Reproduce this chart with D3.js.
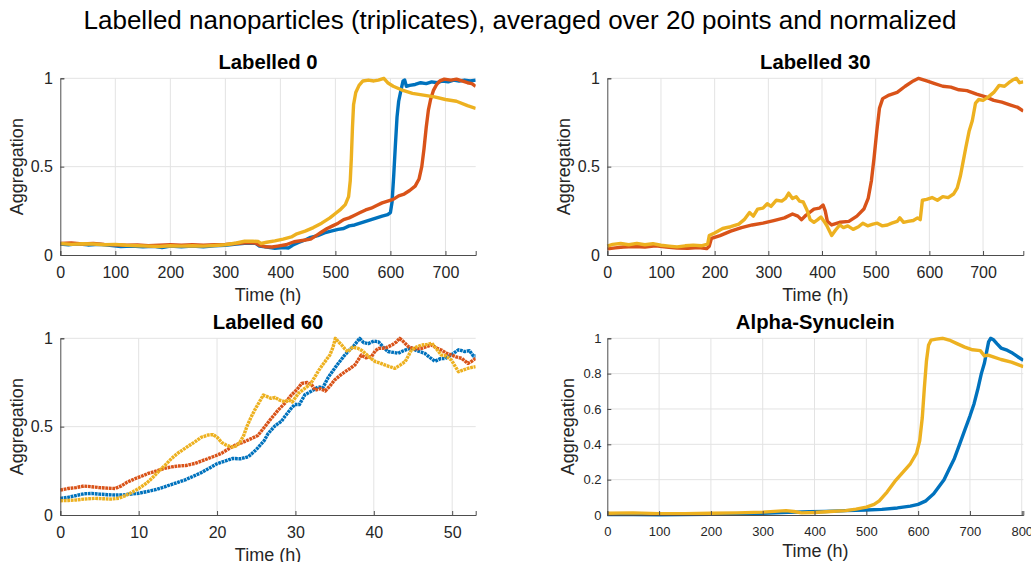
<!DOCTYPE html>
<html>
<head>
<meta charset="utf-8">
<script src="https://d3js.org/d3.v7.min.js"></script>
<style>
  html, body { margin: 0; padding: 0; background: #fff; }
  svg { display: block; font-family: "Liberation Sans", Arial, Helvetica, sans-serif; }
</style>
</head>
<body>
<svg id="chart" width="1031" height="562"></svg>
<script>
// MATLAB default colours
const colors = { blue: '#0072BD', orange: '#D95319', yellow: '#EDB120' };

// Labelled 0 (time h, aggregation)
const l0Blue = [[0,0.062],[15,0.058],[30,0.063],[50,0.057],[70,0.06],[90,0.055],[110,0.048],[130,0.05],[150,0.046],[170,0.049],[185,0.042],[200,0.05],[220,0.047],[240,0.05],[260,0.046],[280,0.052],[300,0.055],[320,0.062],[340,0.068],[355,0.066],[362,0.05],[375,0.045],[390,0.038],[405,0.042],[415,0.04],[422,0.055],[432,0.07],[445,0.085],[455,0.1],[468,0.11],[480,0.125],[492,0.135],[505,0.145],[515,0.15],[525,0.165],[535,0.17],[545,0.18],[555,0.19],[565,0.2],[575,0.21],[585,0.22],[595,0.228],[600,0.24],[603,0.3],[606,0.45],[609,0.62],[612,0.78],[615,0.87],[619,0.93],[623,0.985],[626,0.99],[629,0.955],[635,0.96],[645,0.965],[655,0.975],[665,0.97],[675,0.98],[685,0.975],[695,0.985],[705,0.98],[715,0.99],[725,0.985],[735,0.99],[745,0.985],[755,0.99]];
const l0Orange = [[0,0.065],[20,0.068],[40,0.062],[60,0.066],[80,0.06],[100,0.058],[120,0.055],[140,0.057],[160,0.052],[180,0.055],[200,0.058],[220,0.055],[240,0.058],[260,0.056],[280,0.058],[300,0.06],[320,0.065],[340,0.07],[355,0.068],[362,0.055],[372,0.047],[385,0.045],[395,0.05],[410,0.058],[425,0.075],[440,0.082],[455,0.09],[465,0.11],[475,0.13],[485,0.15],[495,0.165],[505,0.18],[515,0.2],[525,0.21],[535,0.225],[545,0.24],[555,0.255],[565,0.265],[575,0.28],[585,0.295],[595,0.305],[605,0.315],[615,0.335],[625,0.345],[635,0.365],[645,0.39],[652,0.43],[657,0.5],[661,0.6],[665,0.72],[669,0.82],[673,0.88],[678,0.93],[684,0.965],[690,0.985],[698,0.995],[710,0.99],[720,0.995],[730,0.985],[740,0.975],[748,0.97],[755,0.955]];
const l0Yellow = [[0,0.065],[20,0.06],[40,0.064],[60,0.062],[80,0.058],[100,0.06],[120,0.055],[140,0.052],[160,0.05],[180,0.048],[200,0.052],[220,0.05],[240,0.052],[260,0.05],[280,0.054],[300,0.058],[320,0.068],[335,0.078],[350,0.078],[360,0.076],[365,0.065],[375,0.072],[390,0.08],[405,0.09],[420,0.102],[430,0.12],[445,0.135],[460,0.155],[475,0.18],[490,0.21],[500,0.235],[510,0.26],[518,0.285],[524,0.33],[527,0.42],[529,0.55],[531,0.72],[533,0.85],[537,0.92],[543,0.96],[550,0.985],[560,0.99],[570,0.985],[578,0.99],[588,1.0],[595,0.975],[605,0.955],[620,0.935],[640,0.915],[660,0.905],[680,0.895],[700,0.88],[720,0.87],[740,0.845],[755,0.83]];

// Labelled 30
const l30Orange = [[0,0.035],[15,0.04],[30,0.045],[50,0.048],[70,0.045],[90,0.052],[110,0.045],[130,0.04],[150,0.038],[170,0.042],[185,0.036],[190,0.05],[194,0.094],[210,0.11],[230,0.135],[250,0.155],[270,0.17],[290,0.18],[310,0.195],[330,0.21],[345,0.232],[355,0.22],[362,0.2],[370,0.225],[385,0.26],[395,0.265],[402,0.283],[406,0.25],[410,0.19],[418,0.17],[433,0.185],[450,0.19],[465,0.22],[478,0.26],[486,0.32],[492,0.42],[497,0.55],[502,0.7],[507,0.83],[513,0.885],[525,0.905],[540,0.92],[555,0.955],[570,0.985],[580,1.0],[595,0.985],[610,0.97],[625,0.955],[640,0.95],[655,0.935],[670,0.93],[688,0.91],[705,0.895],[720,0.875],[735,0.865],[750,0.85],[765,0.835],[775,0.815]];
const l30Yellow = [[0,0.05],[10,0.06],[25,0.065],[40,0.058],[55,0.066],[70,0.058],[85,0.064],[100,0.055],[115,0.05],[130,0.046],[145,0.052],[160,0.056],[175,0.052],[187,0.062],[190,0.11],[200,0.125],[215,0.15],[230,0.16],[245,0.175],[255,0.2],[265,0.24],[272,0.22],[280,0.26],[290,0.265],[298,0.29],[305,0.275],[315,0.31],[325,0.305],[332,0.32],[338,0.35],[345,0.32],[352,0.33],[358,0.305],[365,0.3],[372,0.255],[378,0.2],[385,0.185],[392,0.2],[398,0.215],[404,0.19],[410,0.16],[418,0.11],[425,0.14],[433,0.17],[440,0.155],[448,0.165],[458,0.145],[468,0.16],[476,0.18],[485,0.165],[495,0.175],[503,0.18],[512,0.165],[522,0.17],[530,0.18],[540,0.19],[545,0.21],[552,0.185],[560,0.19],[570,0.195],[578,0.21],[583,0.2],[587,0.31],[595,0.315],[605,0.325],[615,0.31],[625,0.33],[635,0.325],[645,0.345],[652,0.38],[658,0.45],[663,0.53],[668,0.61],[674,0.7],[680,0.76],[686,0.86],[692,0.88],[700,0.875],[710,0.895],[720,0.92],[730,0.96],[740,0.955],[748,0.975],[755,0.99],[762,1.0],[768,0.975],[775,0.98]];

// Labelled 60
const l60Blue = [[0,0.094],[1,0.1],[2,0.11],[3,0.12],[4,0.122],[5,0.118],[6,0.115],[7,0.113],[8,0.114],[9,0.118],[10,0.123],[11,0.132],[12,0.142],[13,0.155],[14,0.17],[15,0.185],[16,0.2],[17,0.22],[18,0.24],[19,0.265],[20,0.29],[21,0.305],[22,0.32],[23,0.318],[24,0.33],[25,0.37],[26,0.42],[26.5,0.46],[27.4,0.505],[28.2,0.53],[28.7,0.56],[29.4,0.6],[29.9,0.625],[30.5,0.625],[31.2,0.68],[32,0.7],[32.9,0.725],[33.5,0.72],[34.2,0.78],[35,0.83],[35.5,0.86],[36.2,0.9],[36.7,0.925],[37.5,0.96],[38.2,1.0],[38.7,0.975],[39.3,0.97],[40,0.985],[40.6,0.98],[41.2,0.95],[41.8,0.925],[42.5,0.92],[43.1,0.915],[43.8,0.93],[44.8,0.945],[45.5,0.93],[46.5,0.915],[47.2,0.89],[47.8,0.87],[48.5,0.885],[49.1,0.885],[50,0.91],[50.8,0.935],[51.6,0.925],[52.2,0.93],[52.7,0.9],[53,0.9]];
const l60Orange = [[0,0.141],[1,0.15],[2,0.155],[3,0.164],[4,0.16],[5,0.155],[6,0.152],[7,0.15],[7.8,0.165],[8.5,0.185],[9.5,0.205],[10.5,0.222],[11.2,0.235],[12.3,0.25],[13.3,0.264],[14.2,0.272],[15,0.277],[16,0.28],[17.2,0.292],[18,0.305],[18.9,0.32],[19.8,0.335],[20.6,0.35],[21.5,0.375],[22.3,0.395],[23.2,0.41],[24,0.425],[25.2,0.45],[26.1,0.5],[26.8,0.54],[27.8,0.594],[28.6,0.63],[29.5,0.68],[30.2,0.71],[30.8,0.745],[31.5,0.75],[32.1,0.735],[32.5,0.707],[33.2,0.715],[33.8,0.702],[34.4,0.73],[35,0.764],[35.7,0.79],[36.3,0.81],[37,0.83],[37.6,0.85],[38.4,0.905],[39,0.89],[39.7,0.896],[40.2,0.93],[40.6,0.943],[41.5,0.945],[42.3,0.962],[42.9,0.98],[43.3,1.0],[43.8,0.98],[44.4,0.953],[45.2,0.94],[46.1,0.943],[46.8,0.955],[47.4,0.962],[48,0.945],[48.6,0.934],[49.3,0.915],[49.9,0.906],[50.5,0.895],[51.2,0.887],[52,0.858],[52.5,0.87],[53,0.887]];
const l60Yellow = [[0,0.081],[1,0.082],[2,0.085],[3,0.09],[4.4,0.094],[5.5,0.092],[6.5,0.09],[7.5,0.095],[8.3,0.11],[9.2,0.13],[10,0.15],[11,0.18],[11.7,0.208],[12.5,0.245],[13.4,0.283],[14.2,0.32],[15,0.35],[16,0.38],[17.2,0.415],[18,0.44],[18.9,0.453],[19.5,0.455],[20,0.44],[20.6,0.41],[21.2,0.395],[21.9,0.385],[22.4,0.39],[22.9,0.41],[23.4,0.45],[23.8,0.5],[24.3,0.55],[24.8,0.594],[25.4,0.64],[25.9,0.679],[26.4,0.67],[26.9,0.66],[27.4,0.665],[28,0.65],[28.7,0.641],[29.2,0.65],[29.6,0.64],[30.4,0.689],[31.2,0.717],[31.9,0.74],[32.5,0.783],[33,0.82],[33.6,0.858],[34.4,0.906],[34.8,0.95],[35.1,1.0],[35.5,0.98],[35.9,0.962],[36.3,0.94],[36.7,0.924],[37.3,0.95],[38,0.943],[38.5,0.93],[38.9,0.915],[39.5,0.89],[40.2,0.868],[40.8,0.86],[41.4,0.849],[42,0.84],[42.7,0.83],[43.4,0.85],[44,0.868],[44.4,0.9],[44.8,0.934],[45.4,0.95],[46.1,0.962],[46.8,0.965],[47.4,0.972],[48,0.94],[48.6,0.906],[49.2,0.9],[49.9,0.877],[50.4,0.84],[50.8,0.811],[51.4,0.82],[52,0.83],[52.5,0.835],[53,0.84]];

// Alpha-Synuclein
const asBlue = [[0,0.002],[50,0.003],[100,0.001],[150,0.002],[200,0.004],[250,0.006],[300,0.01],[350,0.015],[390,0.018],[420,0.02],[460,0.025],[500,0.028],[530,0.032],[560,0.04],[585,0.05],[600,0.06],[615,0.08],[630,0.12],[640,0.16],[650,0.2],[660,0.26],[670,0.32],[680,0.4],[690,0.48],[700,0.56],[708,0.63],[715,0.71],[722,0.8],[728,0.86],[732,0.92],[736,0.98],[740,1.0],[746,0.99],[752,0.97],[760,0.945],[770,0.935],[780,0.92],[790,0.9],[803,0.875]];
const asYellow = [[0,0.01],[50,0.012],[100,0.008],[150,0.007],[200,0.01],[250,0.012],[300,0.016],[330,0.022],[345,0.025],[360,0.02],[375,0.012],[400,0.014],[430,0.02],[460,0.025],[480,0.033],[500,0.045],[515,0.06],[525,0.08],[540,0.13],[555,0.19],[570,0.24],[585,0.29],[597,0.35],[603,0.42],[608,0.55],[612,0.72],[616,0.87],[620,0.96],[625,0.99],[635,0.995],[648,1.0],[660,0.99],[675,0.97],[690,0.95],[705,0.935],[720,0.93],[728,0.9],[735,0.905],[745,0.895],[760,0.88],[780,0.865],[803,0.84]];

const mainTitle = 'Labelled nanoparticles (triplicates), averaged over 20 points and normalized';
const xTicks100 = [0, 100, 200, 300, 400, 500, 600, 700];
const xTicks10 = [0, 10, 20, 30, 40, 50];
const xTicksAS = [0, 100, 200, 300, 400, 500, 600, 700, 800];
const yTicksHalf = [0, 0.5, 1];
const yTicksFifth = [0, 0.2, 0.4, 0.6, 0.8, 1];

const panels = [
  { title: 'Labelled 0', x: 60.3, y: 78.3, w: 415.4, h: 176.7, xMax: 755, xTicks: xTicks100, yTicks: yTicksHalf, tickFont: 16,
    series: [[l0Blue, colors.blue], [l0Orange, colors.orange], [l0Yellow, colors.yellow]] },
  { title: 'Labelled 30', x: 607.3, y: 78.3, w: 416, h: 176.7, xMax: 775, xTicks: xTicks100, yTicks: yTicksHalf, tickFont: 16,
    series: [[l30Orange, colors.orange], [l30Yellow, colors.yellow]] },
  { title: 'Labelled 60', x: 60.3, y: 338.3, w: 415.4, h: 176.7, xMax: 53, xTicks: xTicks10, yTicks: yTicksHalf, tickFont: 16, dotted: true,
    series: [[l60Blue, colors.blue], [l60Orange, colors.orange], [l60Yellow, colors.yellow]] },
  { title: 'Alpha-Synuclein', x: 607.3, y: 338.3, w: 416, h: 176.7, xMax: 803, xTicks: xTicksAS, yTicks: yTicksFifth, tickFont: 13,
    series: [[asBlue, colors.blue], [asYellow, colors.yellow]] },
];

const svg = d3.select('#chart');
const axisColor = '#4d4d4d';

svg.append('text')
  .attr('x', 520).attr('y', 29)
  .attr('text-anchor', 'middle')
  .attr('font-size', 26)
  .attr('fill', '#000')
  .text(mainTitle);

panels.forEach((p, i) => {
  const xs = d3.scaleLinear().domain([0, p.xMax]).range([0, p.w]);
  const ys = d3.scaleLinear().domain([0, 1]).range([p.h, 0]);
  const g = svg.append('g').attr('transform', `translate(${p.x},${p.y})`);

  g.append('defs').append('clipPath').attr('id', `clip${i}`)
    .append('rect').attr('x', -2).attr('y', -2).attr('width', p.w + 2).attr('height', p.h + 4);

  // grid
  g.append('g').selectAll('line').data(p.xTicks.filter((t) => t > 0)).join('line')
    .attr('x1', (d) => xs(d)).attr('x2', (d) => xs(d))
    .attr('y1', 0).attr('y2', p.h)
    .attr('stroke', '#e3e3e3').attr('stroke-width', 1);
  g.append('g').selectAll('line').data(p.yTicks.filter((t) => t > 0)).join('line')
    .attr('x1', 0).attr('x2', p.w)
    .attr('y1', (d) => ys(d)).attr('y2', (d) => ys(d))
    .attr('stroke', '#e3e3e3').attr('stroke-width', 1);

  // data
  const line = d3.line().x((d) => xs(d[0])).y((d) => ys(d[1]));
  g.append('g').attr('clip-path', `url(#clip${i})`)
    .selectAll('path').data(p.series).join('path')
    .attr('d', (d) => line(d[0]))
    .attr('fill', 'none')
    .attr('stroke', (d) => d[1])
    .attr('stroke-width', p.dotted ? 3.4 : 3.4)
    .attr('stroke-dasharray', p.dotted ? '2.8,0.7' : null)
    .attr('stroke-linejoin', 'round');

  // axes (MATLAB style: inward ticks, box off)
  const xAxis = d3.axisBottom(xs).tickValues(p.xTicks).tickSize(-4).tickPadding(9)
    .tickFormat(d3.format('d'));
  const yAxis = d3.axisLeft(ys).tickValues(p.yTicks).tickSize(-4).tickPadding(9)
    .tickFormat((d) => (d === 0 || d === 1 ? d3.format('d')(d) : d3.format('.1f')(d)));

  const gx = g.append('g').attr('transform', `translate(0,${p.h})`).call(xAxis);
  const gy = g.append('g').call(yAxis);
  [gx, gy].forEach((ax) => {
    ax.select('.domain').attr('stroke', axisColor).attr('stroke-width', 1);
    ax.selectAll('.tick line').attr('stroke', axisColor);
    ax.selectAll('.tick text')
      .attr('fill', '#262626')
      .attr('font-size', p.tickFont)
      .attr('font-family', '"Liberation Sans", Arial, sans-serif');
  });
  gx.selectAll('.tick text').attr('dy', p.tickFont > 14 ? '0.85em' : '0.9em');
  gy.selectAll('.tick text').attr('dx', p.tickFont > 14 ? '0.1em' : '0.25em');

  // titles and labels
  g.append('text')
    .attr('x', p.w / 2).attr('y', -9)
    .attr('text-anchor', 'middle')
    .attr('font-size', 20.3)
    .attr('font-weight', 'bold')
    .attr('fill', '#000')
    .text(p.title);

  g.append('text')
    .attr('x', p.w / 2).attr('y', p.h + (p.tickFont > 14 ? 46 : 42))
    .attr('text-anchor', 'middle')
    .attr('font-size', 18)
    .attr('fill', '#262626')
    .text('Time (h)');

  const labelX = i === 3 ? -33 : -37;
  g.append('text')
    .attr('transform', `translate(${labelX},${p.h / 2}) rotate(-90)`)
    .attr('text-anchor', 'middle')
    .attr('font-size', 18)
    .attr('fill', '#262626')
    .text('Aggregation');
});
</script>
</body>
</html>
